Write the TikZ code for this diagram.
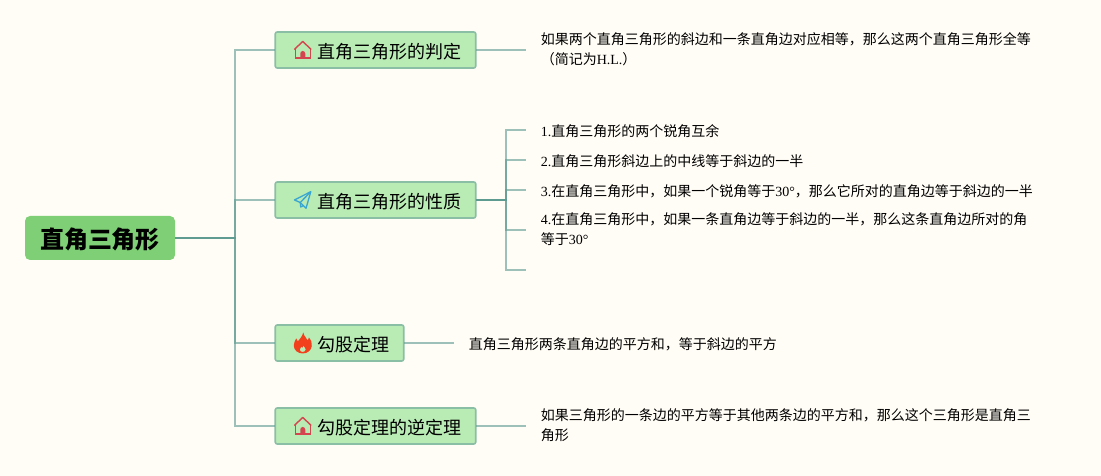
\documentclass[tikz,border=0pt]{standalone}
\usepackage{fontspec}
\usetikzlibrary{positioning}
\setmainfont{Noto Sans CJK SC}
\newfontfamily\serifpart{Liberation Serif}
\newcommand{\lat}[1]{{\serifpart #1}}
\newcommand{\leafstrut}{\rule[-3pt]{0pt}{19pt}}
\definecolor{paper}{HTML}{FFFDF5}
\definecolor{rootfill}{HTML}{7ECF75}
\definecolor{topicfill}{HTML}{B9EBB5}
\definecolor{topicedge}{HTML}{8BBFA5}
\definecolor{linkcol}{HTML}{5C9A90}
\definecolor{housecol}{HTML}{D5454F}
\definecolor{planecol}{HTML}{3AA6D0}
\definecolor{flamecol}{HTML}{F2401C}
\tikzstyle{mainbox} = [rectangle, rounded corners=5pt, fill=rootfill, minimum width=150pt, minimum height=44pt, inner sep=0pt, text height=25pt, text depth=3pt, font=\fontsize{24}{28}\selectfont\bfseries]
\tikzstyle{topic} = [rectangle, rounded corners=2pt, draw=topicedge, line width=1.6pt, fill=topicfill, minimum height=36pt, inner ysep=0pt, inner xsep=14pt, outer sep=0pt, text height=19pt, text depth=2.4pt, font=\fontsize{18}{22}\selectfont, execute at begin node=\hspace*{28.5pt}]
\tikzstyle{leaf} = [align=left, inner xsep=15pt, inner ysep=0pt, outer sep=0pt, font=\fontsize{14}{20}\selectfont, execute at begin node=\leafstrut, execute at end node=\leafstrut]
\tikzstyle{leaftwo} = [leaf, execute at end node={\leafstrut\endgraf\vspace{-4pt}}]
\tikzstyle{link} = [line width=1.8pt, draw=linkcol, opacity=0.6]
\tikzset{
  house/.pic={
    \draw [housecol, line width=1.4pt, line join=round] (-8.5,0.5) -- (0,8.5) -- (8.5,0.5);
    \draw [housecol, line width=1.4pt] (-7.5,1) -- (-7.5,-8) -- (7.5,-8) -- (7.5,1);
    \fill [housecol] (-2.5,-8) -- (-2.5,-3.5) arc (180:0:2.5) -- (2.5,-8) -- cycle;
  },
  plane/.pic={
    \draw [planecol, line width=1.3pt, line join=round] (8,8.3) -- (-8.3,0) -- (-2.5,-2.5) -- (3.3,-8.3) -- cycle;
    \draw [planecol, line width=1.3pt, line join=round] (8,8.3) -- (-2.5,-2.5) -- (-2,-7) -- (0.8,-5.5);
  },
  flame/.pic={
    \fill [flamecol, even odd rule] (0.5,10.5) .. controls (1.5,6) and (4,5) .. (5,2.5) .. controls (6,3.5) and (6.3,4.5) .. (6.2,5.5) .. controls (8.5,2.5) and (9.5,0) .. (9,-3) .. controls (8.5,-7.5) and (4.5,-10.5) .. (0,-10.5) .. controls (-5,-10.5) and (-9,-7) .. (-9,-2.5) .. controls (-9,0.5) and (-7.5,2.5) .. (-6.5,4.5) .. controls (-5.5,3.5) and (-5,2.5) .. (-5,1.5) .. controls (-3,4) and (-0.5,6.5) .. (0.5,10.5) -- cycle
      (0.5,-2.5) .. controls (1,-4) and (3,-4.5) .. (3,-6.5) .. controls (3,-8) and (1.5,-9) .. (0,-9) .. controls (-1.8,-9) and (-3,-8) .. (-3,-6.5) .. controls (-3,-5) and (-2,-4.5) .. (-1.5,-3.5) .. controls (-1,-4) and (-0.6,-4.4) .. (-0.4,-4.8) .. controls (0,-4.2) and (0.3,-3.4) .. (0.5,-2.5) -- cycle;
  }
}

\begin{document}
\begin{tikzpicture}[x=1pt, y=1pt, node distance=150pt]

\fill [paper] (0,0) rectangle (1101,476);
\useasboundingbox (0,0) rectangle (1101,476);

\node (root) [mainbox] at (100,238) {直角三角形};

\node (prop) [topic, right of=root, xshift=125.5pt, yshift=38pt] {直角三角形的性质};
\node (judge) [topic, above of=prop] {直角三角形的判定};
\node (pyth) [topic, below of=prop, xshift=-36pt, yshift=7pt] {勾股定理};
\node (conv) [topic, below of=pyth, xshift=36pt, yshift=67pt] {勾股定理的逆定理};

\node (trunk) [coordinate, right=60pt of root] {};
\node (stem) [coordinate, right=30pt of prop] {};

\node (judgetxt) [leaftwo, right=50pt of judge] {如果两个直角三角形的斜边和一条直角边对应相等，那么这两个直角三角形全等\\（简记为\lat{H.L.}）};
\node (item1) [leaf, right=50pt of prop, yshift=70pt] {\lat{1.}直角三角形的两个锐角互余};
\node (item2) [leaf, right=50pt of prop, yshift=40pt] {\lat{2.}直角三角形斜边上的中线等于斜边的一半};
\node (item3) [leaf, right=50pt of prop, yshift=10pt] {\lat{3.}在直角三角形中，如果一个锐角等于\lat{30°}，那么它所对的直角边等于斜边的一半};
\node (item4) [leaftwo, right=50pt of prop, yshift=-30pt] {\lat{4.}在直角三角形中，如果一条直角边等于斜边的一半，那么这条直角边所对的角\\等于\lat{30°}};
\node (item5) [coordinate, right=50pt of prop, yshift=-70pt] {};
\node (pythtxt) [leaf, right=50pt of pyth] {直角三角形两条直角边的平方和，等于斜边的平方};
\node (convtxt) [leaftwo, right=50pt of conv] {如果三角形的一条边的平方等于其他两条边的平方和，那么这个三角形是直角三\\角形};

\draw [link] (root) -- (trunk) |- (judge);
\draw [link] (root) -- (trunk) |- (prop);
\draw [link] (root) -- (trunk) |- (pyth);
\draw [link] (root) -- (trunk) |- (conv);

\draw [link] (judge) -- (judgetxt);
\draw [link] (pyth) -- (pythtxt);
\draw [link] (conv) -- (convtxt);

\draw [link] (prop) -- (stem) |- (item1);
\draw [link] (prop) -- (stem) |- (item2);
\draw [link] (prop) -- (stem) |- (item3);
\draw [link] (prop) -- (stem) |- (item4);
\draw [link] (prop) -- (stem) |- (item5);

\pic at ([xshift=27.5pt]judge.west) {house};
\pic at ([xshift=27.5pt]prop.west) {plane};
\pic at ([xshift=27.5pt]pyth.west) {flame};
\pic at ([xshift=27.5pt]conv.west) {house};

\end{tikzpicture}
\end{document}
